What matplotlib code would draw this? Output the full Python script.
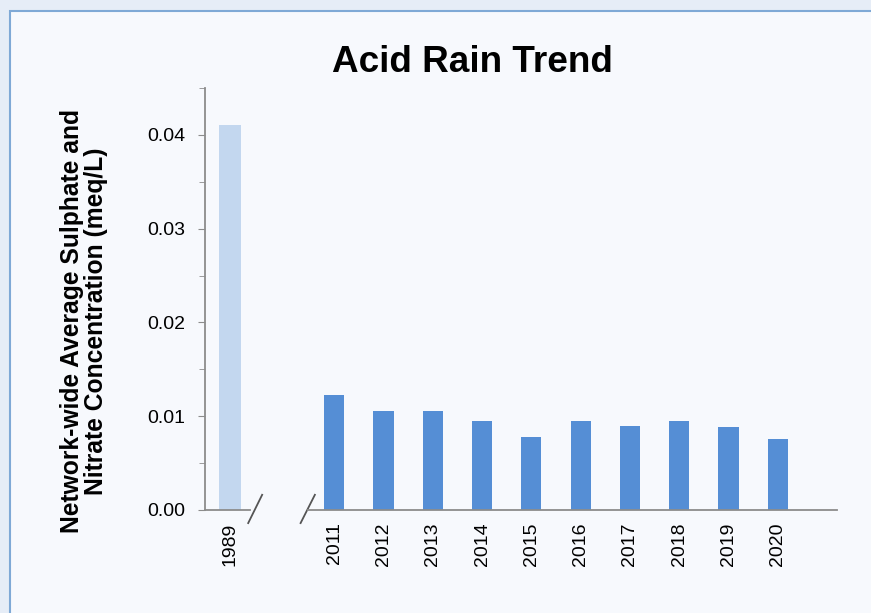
import matplotlib
matplotlib.use('Agg')
import matplotlib.pyplot as plt
from matplotlib.patches import Rectangle
from matplotlib.lines import Line2D
from matplotlib.ticker import MultipleLocator, FormatStrFormatter

plt.rcParams['font.family'] = ['Liberation Sans', 'DejaVu Sans']

# data
early_years = ["1989"]
early_values = [0.0411]
recent_years = ["2011", "2012", "2013", "2014", "2015", "2016", "2017", "2018", "2019", "2020"]
recent_values = [0.0123, 0.0106, 0.0106, 0.0095, 0.0078, 0.0095, 0.0090, 0.0095, 0.0089, 0.0076]

title = "Acid Rain Trend"
ylabel = "Network-wide Average Sulphate and\nNitrate Concentration (meq/L)"

W, H = 871, 613
fig = plt.figure(figsize=(W / 100, H / 100), dpi=100)
fig.patch.set_facecolor('#e6edf7')
fig.add_artist(Rectangle((9.5 / W, -0.01), 1.0, 1 - 10.5 / H + 0.01, transform=fig.transFigure,
                         facecolor='#f7f9fd', edgecolor='#7fa9d6', linewidth=1.5, zorder=0))

axis_grey = '#8c8c8c'
bottom = (H - 510) / H
height = 422 / H

ax1 = fig.add_axes([205 / W, bottom, 45 / W, height])
ax2 = fig.add_axes([308 / W, bottom, 529 / W, height], sharey=ax1)

for ax in (ax1, ax2):
    ax.set_facecolor('none')
    ax.spines['top'].set_visible(False)
    ax.spines['right'].set_visible(False)
    ax.spines['bottom'].set_color(axis_grey)
    ax.spines['bottom'].set_linewidth(1.3)
    ax.tick_params(axis='x', length=0, pad=9, labelsize=14, rotation=90)

ax1.bar(range(len(early_years)), early_values, width=0.45, color='#c3d7ef')
ax2.bar(range(len(recent_years)), recent_values, width=0.41, color='#558ed5')

ax1.set_xticks(range(len(early_years)))
ax1.set_xticklabels(early_years)
ax2.set_xticks(range(len(recent_years)))
ax2.set_xticklabels(recent_years)
ax1.set_xlim(-0.51, 0.41)
ax2.set_xlim(-0.53, 10.2)

ax1.set_ylim(0, 0.045)
ax1.yaxis.set_major_locator(MultipleLocator(0.01))
ax1.yaxis.set_minor_locator(MultipleLocator(0.005))
ax1.yaxis.set_major_formatter(FormatStrFormatter('%.2f'))
ax1.spines['left'].set_color(axis_grey)
ax1.spines['left'].set_linewidth(1.3)
ax1.tick_params(axis='y', which='major', length=5, color=axis_grey, pad=9, labelsize=14)
ax1.tick_params(axis='y', which='minor', length=4, color=axis_grey)

ax2.spines['left'].set_visible(False)
ax2.tick_params(axis='y', which='both', left=False, labelleft=False)

# axis break marks
ax1.add_line(Line2D([0.96, 1.27], [-0.031, 0.036], transform=ax1.transAxes,
                    color='#555555', linewidth=1.3, clip_on=False))
ax2.add_line(Line2D([-0.014, 0.013], [-0.031, 0.036], transform=ax2.transAxes,
                    color='#555555', linewidth=1.3, clip_on=False))

fig.text(472 / W, 1 - 62 / H, title, ha='center', va='center', fontsize=26.6, fontweight='bold')
fig.text(84 / W, 1 - 321 / H, ylabel, ha='center', va='center', rotation=90,
         fontsize=17.7, fontweight='bold', multialignment='center', linespacing=1.0)

fig.savefig('out.png', dpi=100, facecolor=fig.get_facecolor())
